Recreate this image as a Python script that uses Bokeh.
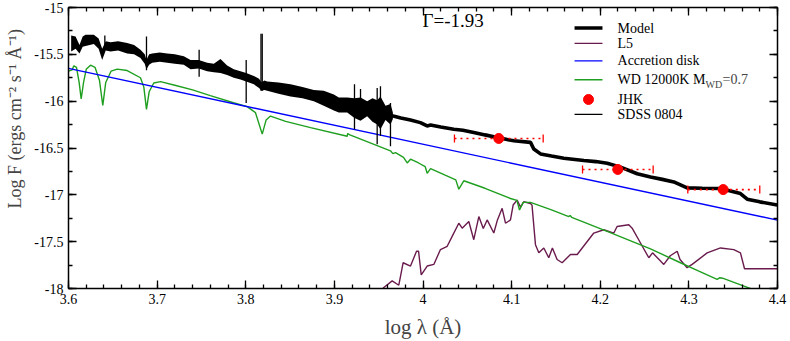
import numpy as np
from bokeh.plotting import figure
from bokeh.models import FixedTicker, LinearAxis, Label, Whisker, TeeHead, ColumnDataSource
from bokeh.embed import file_html
from bokeh.resources import INLINE

FONT = "Liberation Serif"

# ---------------- data ----------------
sdss_x = [3.6030, 3.6080, 3.6124, 3.6160, 3.6192, 3.6286, 3.6340, 3.6380, 3.6420, 3.6474,
          3.6560, 3.6662, 3.6740, 3.6812, 3.6860, 3.6880, 3.6910, 3.6944, 3.7030, 3.7114,
          3.7200, 3.7301, 3.7377, 3.7470, 3.7565, 3.7640, 3.7715, 3.7790, 3.7865, 3.7940,
          3.8005, 3.8091, 3.8150, 3.8178, 3.8210, 3.8242, 3.8370, 3.8505, 3.8640, 3.8768,
          3.8880, 3.8994, 3.9050, 3.9145, 3.9227, 3.9295, 3.9370, 3.9430, 3.9483, 3.9520,
          3.9577, 3.9633, 3.9660]
sdss_hi = [-15.30, -15.31, -15.40, -15.31, -15.29, -15.29, -15.33, -15.44, -15.36, -15.37,
           -15.36, -15.38, -15.40, -15.45, -15.50, -15.56, -15.50, -15.49, -15.48, -15.49,
           -15.50, -15.52, -15.56, -15.56, -15.59, -15.60, -15.55, -15.62, -15.66, -15.68,
           -15.70, -15.73, -15.76, -15.80, -15.78, -15.79, -15.80, -15.82, -15.85, -15.88,
           -15.89, -15.93, -15.96, -15.96, -15.97, -15.96, -16.00, -15.97, -15.99, -15.95,
           -16.05, -16.03, -16.12]
sdss_lo = [-15.47, -15.44, -15.49, -15.42, -15.41, -15.39, -15.44, -15.56, -15.46, -15.47,
           -15.46, -15.49, -15.50, -15.54, -15.60, -15.66, -15.61, -15.59, -15.58, -15.59,
           -15.60, -15.61, -15.66, -15.65, -15.68, -15.69, -15.70, -15.72, -15.75, -15.77,
           -15.79, -15.82, -15.86, -15.89, -15.88, -15.89, -15.92, -15.95, -15.97, -16.00,
           -16.05, -16.10, -16.12, -16.12, -16.18, -16.21, -16.16, -16.22, -16.25, -16.30,
           -16.20, -16.25, -16.19]
spike_x = [3.6410, 3.6880, 3.7474, 3.8005, 3.8172, 3.8186, 3.9227, 3.9295, 3.9483, 3.9520, 3.9633]
spike_top = [-15.30, -15.31, -15.45, -15.56, -15.28, -15.28, -15.82, -15.87, -15.86, -15.84, -16.02]
spike_bot = [-15.42, -15.67, -15.74, -16.02, -15.89, -15.89, -16.30, -16.20, -16.46, -16.37, -16.48]

model_x = [3.9630, 3.9664, 3.9750, 3.9859, 3.9970, 4.0047, 4.0085, 4.0200, 4.0347, 4.0450,
           4.0573, 4.0700, 4.0837, 4.0950, 4.1025, 4.1213, 4.1250, 4.1326, 4.1450, 4.1589,
           4.1815, 4.1950, 4.2078, 4.2229, 4.2417, 4.2567, 4.2700, 4.2830, 4.2980, 4.3150,
           4.3357, 4.3582, 4.3658, 4.3800, 4.3996]
model_y = [-16.150, -16.159, -16.180, -16.201, -16.229, -16.264, -16.255, -16.275, -16.299, -16.310,
           -16.334, -16.360, -16.387, -16.410, -16.423, -16.440, -16.510, -16.563, -16.585, -16.609,
           -16.634, -16.645, -16.662, -16.704, -16.775, -16.810, -16.835, -16.862, -16.926, -16.930,
           -16.933, -16.986, -17.046, -17.075, -17.109]

l5_x = [3.9520, 3.9558, 3.9652, 3.9727, 3.9776, 3.9859, 3.9927, 3.9950, 3.9980, 4.0047,
        4.0122, 4.0197, 4.0273, 4.0329, 4.0404, 4.0442, 4.0517, 4.0573, 4.0630, 4.0680,
        4.0724, 4.0799, 4.0840, 4.0893, 4.0931, 4.0987, 4.1017, 4.1062, 4.1100, 4.1137,
        4.1213, 4.1230, 4.1269, 4.1307, 4.1363, 4.1419, 4.1460, 4.1513, 4.1570, 4.1664,
        4.1740, 4.1927, 4.2040, 4.2153, 4.2190, 4.2322, 4.2360, 4.2454, 4.2548, 4.2590,
        4.2680, 4.2717, 4.2790, 4.2868, 4.2900, 4.2980, 4.3037, 4.3206, 4.3357, 4.3507,
        4.3582, 4.3628, 4.3996]
l5_y = [-18.030, -17.989, -17.919, -17.965, -17.725, -17.760, -17.602, -17.602, -17.855, -17.760,
        -17.743, -17.584, -17.549, -17.443, -17.303, -17.356, -17.285, -17.479, -17.232, -17.360,
        -17.268, -17.408, -17.268, -17.144, -17.303, -17.268, -17.109, -17.057, -17.130, -17.074,
        -17.092, -17.110, -17.532, -17.619, -17.567, -17.672, -17.567, -17.690, -17.725, -17.637,
        -17.637, -17.408, -17.373, -17.408, -17.338, -17.320, -17.356, -17.514, -17.672, -17.619,
        -17.707, -17.743, -17.650, -17.602, -17.690, -17.778, -17.743, -17.620, -17.567, -17.585,
        -17.620, -17.789, -17.789]

wd_x = [3.6000, 3.6042, 3.6060, 3.6090, 3.6120, 3.6143, 3.6170, 3.6200, 3.6248, 3.6300,
        3.6350, 3.6387, 3.6420, 3.6480, 3.6550, 3.6662, 3.6812, 3.6850, 3.6880, 3.6910,
        3.6962, 3.7038, 3.7200, 3.7400, 3.7600, 3.7862, 3.8016, 3.8110, 3.8186, 3.8230,
        3.8279, 3.8450, 3.8731, 3.9145, 3.9150, 3.9175, 3.9633, 3.9660, 3.9690, 3.9780,
        3.9822, 3.9859, 3.9950, 4.0025, 4.0047, 4.0085, 4.0250, 4.0370, 4.0404, 4.0460,
        4.0700, 4.0987, 4.1060, 4.1089, 4.1130, 4.1213, 4.1450, 4.1645, 4.1660, 4.1678,
        4.2078, 4.2567, 4.2905, 4.3100, 4.3319, 4.3350, 4.3380, 4.3714, 4.3800]
wd_y = [-15.680, -15.665, -15.623, -15.640, -15.800, -15.975, -15.800, -15.660, -15.616, -15.640,
        -15.780, -16.046, -15.800, -15.680, -15.658, -15.673, -15.750, -15.850, -16.088, -15.900,
        -15.806, -15.792, -15.830, -15.880, -15.940, -16.017, -16.059, -16.123, -16.352, -16.200,
        -16.159, -16.215, -16.282, -16.375, -16.345, -16.360, -16.530, -16.560, -16.550, -16.600,
        -16.660, -16.620, -16.660, -16.700, -16.770, -16.720, -16.790, -16.840, -16.940, -16.850,
        -16.930, -17.039, -17.060, -17.162, -17.080, -17.081, -17.160, -17.232, -17.220, -17.240,
        -17.391, -17.577, -17.725, -17.810, -17.902, -17.885, -17.890, -18.007, -18.050]

disk_x = [3.6, 4.4]
disk_y = [-15.65, -17.27]

jhk_x = [4.0855, 4.2198, 4.3387]
jhk_y = [-16.398, -16.729, -16.944]
jhk_xlo = [4.0355, 4.1800, 4.2988]
jhk_xhi = [4.1356, 4.2597, 4.3800]

x_ticks = [3.6, 3.7, 3.8, 3.9, 4.0, 4.1, 4.2, 4.3, 4.4]
x_tick_labels = ["3.6", "3.7", "3.8", "3.9", "4", "4.1", "4.2", "4.3", "4.4"]
y_ticks = [-18.0, -17.5, -17.0, -16.5, -16.0, -15.5, -15.0]
y_tick_labels = ["-18", "-17.5", "-17", "-16.5", "-16", "-15.5", "-15"]
x_minor = [round(3.6 + 0.02 * i, 2) for i in range(41)]
y_minor = [round(-18 + 0.25 * i, 2) for i in range(13)]

legend_labels = ["Model", "L5", "Accretion disk", "WD 12000K M", "JHK", "SDSS 0804"]
gamma_text = "\u0393=-1.93"
x_title = "log \u03bb (\u00c5)"
y_title = "Log F (ergs cm\u207b\u00b2 s\u207b\u00b9 \u00c5\u207b\u00b9)"

# ---------------- styles ----------------
C_MODEL = "black"
C_L5 = "#6a1b4d"
C_DISK = "#0000ff"
C_WD = "#1f9f1f"
C_JHK = "#ff0000"

p = figure(width=790, height=341, x_range=(3.6, 4.4), y_range=(-18, -15),
           output_backend="svg", toolbar_location=None,
           min_border_left=68, min_border_right=13, min_border_top=7, min_border_bottom=50)
p.xgrid.visible = False
p.ygrid.visible = False
p.outline_line_color = None

xt = FixedTicker(ticks=x_ticks, minor_ticks=x_minor)
yt = FixedTicker(ticks=y_ticks, minor_ticks=y_minor)


def style_axis(ax, show_labels=True):
    ax.axis_line_width = 1.5
    ax.axis_line_color = "black"
    ax.major_tick_in = 8
    ax.major_tick_out = 0
    ax.minor_tick_in = 4
    ax.minor_tick_out = 0
    ax.major_tick_line_width = 1.3
    ax.minor_tick_line_width = 1.3
    ax.major_tick_line_color = "black"
    ax.minor_tick_line_color = "black"
    ax.major_label_text_font = FONT
    if show_labels:
        ax.major_label_text_color = "black"
        ax.major_label_text_font_size = "14px"
        ax.major_label_standoff = 5
    else:
        ax.major_label_text_color = None
        ax.major_label_text_font_size = "1px"
        ax.major_label_standoff = 0


p.xaxis[0].ticker = xt
p.yaxis[0].ticker = yt
style_axis(p.xaxis[0])
style_axis(p.yaxis[0])
p.xaxis[0].major_label_overrides = {t: s for t, s in zip(x_ticks, x_tick_labels)}
p.yaxis[0].major_label_overrides = {t: s for t, s in zip(y_ticks, y_tick_labels)}

p.xaxis[0].axis_label = x_title
p.xaxis[0].axis_label_text_font = FONT
p.xaxis[0].axis_label_text_font_size = "21px"
p.xaxis[0].axis_label_text_font_style = "normal"
p.xaxis[0].axis_label_standoff = 8

p.yaxis[0].axis_label = "\u00a0" * 13 + y_title
p.yaxis[0].axis_label_text_font = FONT
p.yaxis[0].axis_label_text_font_size = "18px"
p.yaxis[0].axis_label_text_font_style = "normal"
p.yaxis[0].axis_label_standoff = 6

top = LinearAxis(ticker=FixedTicker(ticks=x_ticks, minor_ticks=x_minor))
right = LinearAxis(ticker=FixedTicker(ticks=y_ticks, minor_ticks=y_minor))
style_axis(top, False)
style_axis(right, False)
p.add_layout(top, "above")
p.add_layout(right, "right")

# ---------------- curves ----------------
p.line(l5_x, l5_y, line_color=C_L5, line_width=1.4)
p.line(wd_x, wd_y, line_color=C_WD, line_width=1.4)
p.line(disk_x, disk_y, line_color=C_DISK, line_width=1.4)
p.line(model_x, model_y, line_color=C_MODEL, line_width=3.6)

p.varea(x=sdss_x, y1=sdss_lo, y2=sdss_hi, fill_color="black")
p.segment(x0=spike_x, y0=spike_bot, x1=spike_x, y1=spike_top, line_color="black", line_width=1.3)

src = ColumnDataSource(dict(x=jhk_x, y=jhk_y, lo=jhk_xlo, hi=jhk_xhi))
wh = Whisker(source=src, base="y", lower="lo", upper="hi", dimension="width",
             line_color=C_JHK, line_width=1.6, line_dash="2 4", level="overlay",
             lower_head=TeeHead(size=8, line_color=C_JHK, line_width=1.3),
             upper_head=TeeHead(size=8, line_color=C_JHK, line_width=1.3))
p.add_layout(wh)
p.scatter("x", "y", source=src, size=10, fill_color=C_JHK, line_color=C_JHK)

# ---------------- legend (drawn by hand, no frame) ----------------
leg_y = [-15.219, -15.383, -15.570, -15.771, -15.982, -16.141]
lx0, lx1, ltx = 4.171, 4.2025, 4.2195
p.line([lx0, lx1], [leg_y[0]] * 2, line_color=C_MODEL, line_width=3.6)
p.line([lx0, lx1], [leg_y[1]] * 2, line_color=C_L5, line_width=1.4)
p.line([lx0, lx1], [leg_y[2]] * 2, line_color=C_DISK, line_width=1.4)
p.line([lx0, lx1], [leg_y[3]] * 2, line_color=C_WD, line_width=1.4)
p.scatter([(lx0 + lx1) / 2], [leg_y[4]], size=10, fill_color=C_JHK, line_color=C_JHK)
p.line([lx0, lx1], [leg_y[5]] * 2, line_color="black", line_width=1.4)

for lab, yy in zip(legend_labels, leg_y):
    p.add_layout(Label(x=ltx, y=yy, text=lab, text_font=FONT, text_font_size="14px",
                       text_baseline="middle", text_align="left", text_color="black"))
p.add_layout(Label(x=ltx, y=leg_y[3], x_offset=88, y_offset=-5, text="WD", text_font=FONT,
                   text_font_size="10px", text_baseline="middle", text_align="left"))
p.add_layout(Label(x=ltx, y=leg_y[3], x_offset=105, text="=0.7", text_font=FONT,
                   text_font_size="14px", text_baseline="middle", text_align="left"))

p.add_layout(Label(x=3.9994, y=-15.137, text=gamma_text, text_font=FONT, text_font_size="19px",
                   text_baseline="middle", text_align="left", text_color="black"))

open("out.html", "w").write(file_html(p, INLINE))
